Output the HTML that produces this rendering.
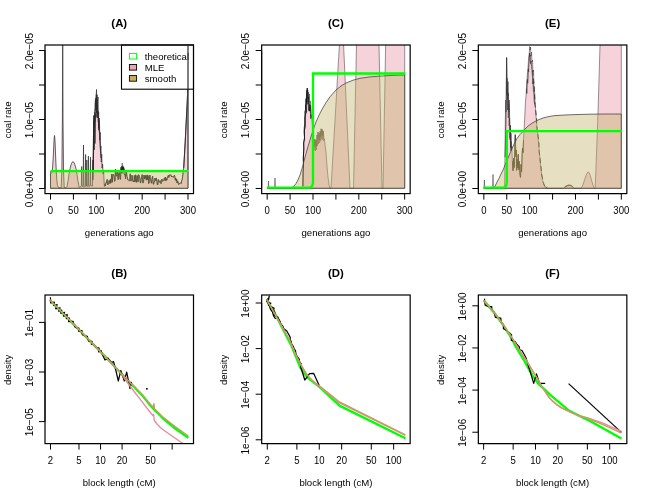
<!DOCTYPE html>
<html><head><meta charset="utf-8"><style>
html,body{margin:0;padding:0;background:#fff;}
svg{display:block;font-family:"Liberation Sans",sans-serif;will-change:transform;}
</style></head><body>
<svg width="650" height="500" viewBox="0 0 650 500">
<rect width="650" height="500" fill="#fff"/>
<clipPath id="cA"><rect x="45.0" y="45.0" width="148.5" height="148.6"/></clipPath>
<g clip-path="url(#cA)">
<path d="M50.5,188.3 L50.5,174.0 L51.8,172.5 L52.6,168.0 L53.2,158.0 L53.8,145.0 L54.2,138.0 L54.5,135.5 L54.8,138.0 L55.2,145.0 L55.7,158.0 L56.2,170.0 L56.8,180.0 L57.5,185.5 L58.5,187.6 L61.2,187.6 L61.9,170.0 L62.4,120.0 L62.7,20.0 L63.0,120.0 L63.5,170.0 L64.2,187.6 L66.0,187.6 L67.0,186.5 L68.2,180.2 L69.1,173.5 L70.1,168.3 L71.1,164.7 L72.0,162.4 L73.0,161.7 L74.0,162.4 L74.9,164.7 L75.9,168.3 L76.9,173.5 L77.8,180.2 L79.2,187.5 L81.4,186.1 L81.7,166.5 L82.0,185.8 L83.2,186.8 L83.5,145.0 L83.8,185.6 L85.2,186.6 L85.6,154.5 L85.9,186.2 L86.5,185.6 L86.8,160.0 L87.1,186.5 L88.1,185.6 L88.4,156.0 L88.8,186.4 L90.2,185.6 L90.5,157.2 L90.8,185.7 L92.4,186.0 L92.9,160.0 L93.3,172.0 L93.6,140.0 L93.9,150.0 L94.1,115.0 L94.4,128.0 L94.7,112.0 L95.0,122.0 L95.4,100.0 L95.8,110.0 L96.2,96.0 L96.5,89.5 L96.8,112.0 L97.1,99.0 L97.4,118.0 L97.7,101.0 L98.0,97.0 L98.3,122.0 L98.6,112.0 L98.9,130.0 L99.2,118.0 L99.5,124.0 L99.8,140.0 L100.1,133.0 L100.5,150.0 L100.9,146.0 L101.3,162.0 L101.7,154.4 L102.1,168.0 L102.6,164.0 L103.1,174.0 L103.6,171.0 L104.0,180.0 L104.4,186.5 L104.9,184.2 L105.4,185.9 L105.8,182.8 L106.3,183.0 L106.7,180.7 L107.2,179.4 L107.7,184.8 L108.1,183.9 L108.6,183.9 L109.0,180.4 L109.5,180.9 L110.0,183.6 L110.4,179.4 L110.9,182.8 L111.3,179.2 L111.8,174.1 L112.3,182.2 L112.7,176.8 L113.2,174.3 L113.6,174.5 L114.1,176.3 L114.6,181.3 L115.0,181.0 L115.5,169.0 L115.9,173.1 L116.4,176.0 L116.9,176.2 L117.3,170.9 L117.8,175.3 L118.2,179.6 L118.7,174.1 L119.2,172.3 L119.6,174.8 L120.1,179.1 L120.5,179.3 L121.0,167.2 L121.5,168.2 L121.9,173.3 L122.4,167.8 L122.8,166.9 L123.3,168.9 L123.8,167.8 L124.2,173.6 L124.7,174.9 L125.1,174.6 L125.6,178.8 L126.1,170.7 L126.5,172.3 L127.0,176.7 L127.4,177.0 L127.9,180.1 L128.4,180.1 L128.8,180.5 L129.3,180.6 L129.7,180.8 L130.2,173.8 L130.7,180.8 L131.1,180.8 L131.6,180.5 L132.0,175.2 L132.5,178.9 L133.0,181.4 L133.4,181.0 L133.9,182.0 L134.3,175.5 L134.8,181.7 L135.3,181.8 L135.7,174.8 L136.2,179.2 L136.6,182.3 L137.1,175.6 L137.6,176.0 L138.0,181.8 L138.5,174.8 L138.9,174.9 L139.4,176.3 L139.9,179.1 L140.3,182.8 L140.8,182.6 L141.2,177.8 L141.7,177.9 L142.2,174.6 L142.6,182.8 L143.1,182.9 L143.5,182.5 L144.0,175.0 L144.5,178.8 L144.9,176.9 L145.4,178.2 L145.8,175.3 L146.3,180.1 L146.8,176.4 L147.2,174.9 L147.7,179.7 L148.1,175.6 L148.6,183.6 L149.1,182.9 L149.5,177.2 L150.0,175.1 L150.4,180.2 L150.9,180.8 L151.4,183.2 L151.8,180.0 L152.3,177.1 L152.7,176.3 L153.2,184.1 L153.7,184.2 L154.1,181.2 L154.6,181.6 L155.0,178.1 L155.5,180.7 L156.0,178.2 L156.4,178.2 L156.9,181.2 L157.3,184.4 L157.8,184.9 L158.3,179.5 L158.7,181.3 L159.2,182.3 L159.6,182.0 L160.1,180.6 L160.6,182.5 L161.0,183.7 L161.5,181.6 L161.9,179.0 L162.4,181.1 L162.9,181.0 L163.3,180.8 L163.8,180.5 L164.2,178.3 L164.7,177.7 L165.2,180.8 L165.6,177.1 L166.1,180.5 L166.5,178.9 L167.0,179.8 L167.5,177.3 L167.9,176.2 L168.4,175.3 L168.8,177.5 L169.3,175.2 L169.8,174.8 L170.2,175.4 L170.7,174.7 L171.1,175.6 L171.6,177.0 L172.1,176.3 L172.5,176.8 L173.0,176.4 L173.4,177.2 L173.9,176.9 L174.4,175.1 L174.8,176.5 L175.3,179.9 L175.7,178.0 L176.2,181.1 L176.7,179.2 L177.1,183.0 L177.6,180.9 L178.0,181.9 L178.5,184.3 L179.0,184.4 L179.4,183.3 L179.9,183.6 L180.3,183.3 L180.8,182.7 L181.3,183.4 L181.7,180.2 L182.2,179.9 L182.6,176.9 L183.1,172.8 L183.7,168.0 L184.4,156.0 L185.2,142.0 L185.9,128.0 L186.6,114.0 L187.2,103.0 L187.6,93.0 L187.8,60.0 L187.9,20.0 L188.0,20.0 L188.0,188.3Z" fill="#F6D2DA" stroke="#3a3a3a" stroke-width="0.8" stroke-linejoin="round"/>
<path d="M93.6,124.5 L93.8,123.9 L94.0,121.3 L94.2,126.2 L94.4,116.3 L94.6,117.3 L94.9,109.8 L95.1,110.2 L95.3,102.7 L95.5,104.2 L95.7,98.2 L95.9,107.5 L96.1,102.6 L96.3,94.8 L96.5,97.5 L96.7,105.8 L97.0,94.6 L97.2,108.3 L97.4,104.4 L97.6,107.8 L97.8,115.7 L98.0,111.1 L98.2,115.5 L98.4,120.9 L98.6,128.2 L98.8,120.6 L99.1,131.1 L99.3,131.7 L99.5,133.3 L99.7,132.3 L99.9,134.1 L100.1,132.2" fill="none" stroke="#2b2b2b" stroke-width="0.8" stroke-linejoin="round" />
<path d="M93.6,133.7 L93.8,129.3 L94.0,149.6 L94.2,130.7 L94.4,125.2 L94.6,120.2 L94.9,143.6 L95.1,142.3 L95.3,133.2 L95.5,117.7 L95.7,114.2 L95.9,113.8 L96.1,117.4 L96.3,105.1 L96.5,113.1 L96.7,107.8" fill="none" stroke="#2b2b2b" stroke-width="0.8" stroke-linejoin="round" />
<path d="M92.9,180.0 L93.2,160.0 L93.5,140.0 L93.7,128.0 L94.0,116.0" fill="none" stroke="#222" stroke-width="1.2" stroke-linejoin="round" />
<path d="M99.3,123.6 L99.6,134.0 L100.3,148.0 L101.0,158.0" fill="none" stroke="#333" stroke-width="1.0" stroke-linejoin="round" />
<path d="M50.5,188.3 L50.5,171.3 L188.0,171.3 L188.0,188.3Z" fill="rgba(192,175,100,0.40)" stroke="#5a563f" stroke-width="0.7" stroke-linejoin="round"/>
<path d="M104.9,184.2 L105.4,185.9 L105.8,182.8 L106.3,183.0 L106.7,180.7 L107.2,179.4 L107.7,184.8 L108.1,183.9 L108.6,183.9 L109.0,180.4 L109.5,180.9 L110.0,183.6 L110.4,179.4 L110.9,182.8 L111.3,179.2 L111.8,174.1 L112.3,182.2 L112.7,176.8 L113.2,174.3 L113.6,174.5 L114.1,176.3 L114.6,181.3 L115.0,181.0 L115.5,169.0 L115.9,173.1 L116.4,176.0 L116.9,176.2 L117.3,170.9 L117.8,175.3 L118.2,179.6 L118.7,174.1 L119.2,172.3 L119.6,174.8 L120.1,179.1 L120.5,179.3 L121.0,167.2 L121.5,168.2 L121.9,173.3 L122.4,167.8 L122.8,166.9 L123.3,168.9 L123.8,167.8 L124.2,173.6 L124.7,174.9 L125.1,174.6 L125.6,178.8 L126.1,170.7 L126.5,172.3 L127.0,176.7 L127.4,177.0 L127.9,180.1 L128.4,180.1 L128.8,180.5 L129.3,180.6 L129.7,180.8 L130.2,173.8 L130.7,180.8 L131.1,180.8 L131.6,180.5 L132.0,175.2 L132.5,178.9 L133.0,181.4 L133.4,181.0 L133.9,182.0 L134.3,175.5 L134.8,181.7 L135.3,181.8 L135.7,174.8 L136.2,179.2 L136.6,182.3 L137.1,175.6 L137.6,176.0 L138.0,181.8 L138.5,174.8 L138.9,174.9 L139.4,176.3 L139.9,179.1 L140.3,182.8 L140.8,182.6 L141.2,177.8 L141.7,177.9 L142.2,174.6 L142.6,182.8 L143.1,182.9 L143.5,182.5 L144.0,175.0 L144.5,178.8 L144.9,176.9 L145.4,178.2 L145.8,175.3 L146.3,180.1 L146.8,176.4 L147.2,174.9 L147.7,179.7 L148.1,175.6 L148.6,183.6 L149.1,182.9 L149.5,177.2 L150.0,175.1 L150.4,180.2 L150.9,180.8 L151.4,183.2 L151.8,180.0 L152.3,177.1 L152.7,176.3 L153.2,184.1 L153.7,184.2 L154.1,181.2 L154.6,181.6 L155.0,178.1 L155.5,180.7 L156.0,178.2 L156.4,178.2 L156.9,181.2 L157.3,184.4 L157.8,184.9 L158.3,179.5 L158.7,181.3 L159.2,182.3 L159.6,182.0 L160.1,180.6 L160.6,182.5 L161.0,183.7 L161.5,181.6 L161.9,179.0 L162.4,181.1 L162.9,181.0 L163.3,180.8 L163.8,180.5 L164.2,178.3 L164.7,177.7 L165.2,180.8 L165.6,177.1 L166.1,180.5 L166.5,178.9 L167.0,179.8 L167.5,177.3 L167.9,176.2 L168.4,175.3 L168.8,177.5 L169.3,175.2 L169.8,174.8 L170.2,175.4 L170.7,174.7 L171.1,175.6 L171.6,177.0 L172.1,176.3 L172.5,176.8 L173.0,176.4 L173.4,177.2 L173.9,176.9 L174.4,175.1 L174.8,176.5 L175.3,179.9 L175.7,178.0 L176.2,181.1 L176.7,179.2 L177.1,183.0 L177.6,180.9 L178.0,181.9 L178.5,184.3 L179.0,184.4 L179.4,183.3 L179.9,183.6 L180.3,183.3 L180.8,182.7 L181.3,183.4 L181.7,180.2 L182.2,179.9 L182.6,176.9 L183.1,172.8" fill="none" stroke="#4f4930" stroke-width="0.55" stroke-linejoin="round" />
<path d="M120.9,171.0 L120.9,168.5" fill="none" stroke="#222" stroke-width="0.8" stroke-linejoin="round" />
<path d="M121.6,171.0 L121.6,166.0" fill="none" stroke="#222" stroke-width="0.8" stroke-linejoin="round" />
<path d="M122.2,171.0 L122.2,163.0" fill="none" stroke="#222" stroke-width="0.8" stroke-linejoin="round" />
<path d="M122.8,171.0 L122.8,165.5" fill="none" stroke="#222" stroke-width="0.8" stroke-linejoin="round" />
<path d="M123.4,171.0 L123.4,166.5" fill="none" stroke="#222" stroke-width="0.8" stroke-linejoin="round" />
<path d="M124.0,171.0 L124.0,168.5" fill="none" stroke="#222" stroke-width="0.8" stroke-linejoin="round" />
<path d="M183.7,168.0 L184.4,156.0 L185.2,142.0 L185.9,128.0 L186.6,114.0 L187.2,103.0 L187.6,93.0 L187.9,70.0" fill="none" stroke="#2e2e2e" stroke-width="0.9" stroke-linejoin="round" />
<path d="M188.0,60.0 L188.0,170.0" fill="none" stroke="#444" stroke-width="0.9" stroke-linejoin="round" />
<path d="M50.5,171.2 L188.0,171.2" fill="none" stroke="#00FF00" stroke-width="2.3" stroke-linejoin="round" />
</g>
<rect x="121.5" y="45.0" width="72.0" height="44.2" fill="#fff" stroke="#000" stroke-width="1.1"/>
<rect x="129.4" y="53.4" width="7.2" height="5.6" fill="#fff" stroke="#00FF00" stroke-width="1"/>
<rect x="129.4" y="64.5" width="7.2" height="5.6" fill="#EFA3B4" stroke="#000" stroke-width="0.9"/>
<rect x="129.4" y="75.6" width="7.2" height="5.6" fill="#C9AE62" stroke="#000" stroke-width="0.9"/>
<text x="144.8" y="59.6" font-size="9.6">theoretical</text>
<text x="144.8" y="70.7" font-size="9.6">MLE</text>
<text x="144.8" y="81.8" font-size="9.6">smooth</text>
<path d="M188.0,45.5 L188.0,89.0" fill="none" stroke="#333" stroke-width="1.25" stroke-linejoin="round" />
<rect x="45.0" y="45.0" width="148.5" height="148.6" fill="none" stroke="#000" stroke-width="1.2"/>
<line x1="50.50" y1="193.60" x2="187.99" y2="193.60" stroke="#000" stroke-width="1"/>
<line x1="50.50" y1="193.60" x2="50.50" y2="199.60" stroke="#000" stroke-width="1"/>
<line x1="73.41" y1="193.60" x2="73.41" y2="199.60" stroke="#000" stroke-width="1"/>
<line x1="96.33" y1="193.60" x2="96.33" y2="199.60" stroke="#000" stroke-width="1"/>
<line x1="119.25" y1="193.60" x2="119.25" y2="199.60" stroke="#000" stroke-width="1"/>
<line x1="142.16" y1="193.60" x2="142.16" y2="199.60" stroke="#000" stroke-width="1"/>
<line x1="165.07" y1="193.60" x2="165.07" y2="199.60" stroke="#000" stroke-width="1"/>
<line x1="187.99" y1="193.60" x2="187.99" y2="199.60" stroke="#000" stroke-width="1"/>
<text transform="translate(50.50 213.60) scale(0.93 1)" font-size="10.3" text-anchor="middle">0</text>
<text transform="translate(73.41 213.60) scale(0.93 1)" font-size="10.3" text-anchor="middle">50</text>
<text transform="translate(96.33 213.60) scale(0.93 1)" font-size="10.3" text-anchor="middle">100</text>
<text transform="translate(142.16 213.60) scale(0.93 1)" font-size="10.3" text-anchor="middle">200</text>
<text transform="translate(187.99 213.60) scale(0.93 1)" font-size="10.3" text-anchor="middle">300</text>
<line x1="45.00" y1="188.50" x2="45.00" y2="50.50" stroke="#000" stroke-width="1"/>
<line x1="39.00" y1="188.50" x2="45.00" y2="188.50" stroke="#000" stroke-width="1"/>
<line x1="39.00" y1="154.00" x2="45.00" y2="154.00" stroke="#000" stroke-width="1"/>
<line x1="39.00" y1="119.50" x2="45.00" y2="119.50" stroke="#000" stroke-width="1"/>
<line x1="39.00" y1="85.00" x2="45.00" y2="85.00" stroke="#000" stroke-width="1"/>
<line x1="39.00" y1="50.50" x2="45.00" y2="50.50" stroke="#000" stroke-width="1"/>
<text x="32.80" y="189.10" font-size="10" text-anchor="middle" transform="rotate(-90 32.80 189.10)">0.0e+00</text>
<text x="32.80" y="120.10" font-size="10" text-anchor="middle" transform="rotate(-90 32.80 120.10)">1.0e&#8722;05</text>
<text x="32.80" y="51.10" font-size="10" text-anchor="middle" transform="rotate(-90 32.80 51.10)">2.0e&#8722;05</text>
<text x="119.25" y="235.50" font-size="9.6" text-anchor="middle">generations ago</text>
<text x="10.70" y="119.90" font-size="9.6" text-anchor="middle" transform="rotate(-90 10.70 119.90)">coal rate</text>
<text x="119.25" y="26.50" font-size="11.4" text-anchor="middle" font-weight="bold">(A)</text>
<clipPath id="cC"><rect x="261.6667" y="45.0" width="148.5" height="148.6"/></clipPath>
<g clip-path="url(#cC)">
<path d="M267.2,188.3 L268.1,188.3 L268.5,181.0 L268.9,188.3 L274.6,188.3 L275.0,178.0 L275.4,188.3 L302.6,188.3 L302.9,186.0 L303.1,172.0 L303.5,166.0 L303.3,158.0 L303.8,149.0 L303.7,143.0 L304.5,138.0 L304.3,131.0 L305.1,126.0 L304.9,118.0 L305.8,113.0 L305.6,106.0 L306.4,103.0 L306.5,96.0 L307.3,88.0 L308.0,99.0 L308.4,92.0 L308.9,102.0 L309.4,94.0 L309.8,106.0 L310.2,101.0 L310.8,105.6 L311.3,112.0 L312.0,120.0 L312.8,130.0 L313.6,138.0 L314.3,146.0 L314.8,139.0 L315.3,147.0 L315.9,140.0 L316.5,146.0 L317.1,135.0 L317.6,141.0 L318.0,132.0 L318.6,139.0 L319.2,133.0 L319.6,140.0 L320.2,131.0 L320.7,137.0 L321.2,128.8 L321.7,135.0 L322.2,129.5 L322.8,136.0 L323.3,131.2 L323.8,138.0 L324.4,139.0 L325.2,146.0 L326.0,152.0 L327.0,166.0 L328.0,177.0 L329.2,185.6 L330.0,188.0 L331.0,188.3 L340.6,25.0 L342.7,25.0 L350.0,188.3 L353.5,188.3 L356.9,25.0 L378.6,25.0 L382.0,188.3 L383.0,188.3 L386.0,25.0 L404.7,25.0 L404.7,188.3Z" fill="#F6D2DA" stroke="rgba(45,35,40,0.6)" stroke-width="0.8" stroke-linejoin="round"/>
<path d="M306.2,112.6 L306.5,112.4 L306.7,105.1 L307.0,103.9 L307.3,99.5 L307.5,89.8 L307.8,90.4 L308.1,104.2 L308.4,96.9 L308.6,97.9 L308.9,110.7 L309.2,104.3 L309.4,111.2 L309.7,107.2 L310.0,111.0 L310.2,105.1 L310.5,113.7 L310.8,118.6 L311.1,114.9" fill="none" stroke="#222" stroke-width="0.85" stroke-linejoin="round" />
<path d="M302.9,186.0 L303.1,172.0 L303.5,166.0 L303.3,158.0 L303.8,149.0 L303.7,143.0 L304.5,138.0 L304.3,131.0 L305.1,126.0 L304.9,118.0 L305.8,113.0 L305.6,106.0 L306.4,103.0 L306.5,96.0 L307.3,88.0" fill="none" stroke="#111" stroke-width="1.0" stroke-linejoin="round" />
<path d="M304.6,140.0 L304.2,128.0 L305.2,121.0 L304.8,112.0 L305.9,108.0 L305.6,100.0 L306.6,97.0 L306.9,90.0" fill="none" stroke="#222" stroke-width="0.8" stroke-linejoin="round" />
<path d="M313.8,140.0 L314.2,150.0 L314.8,139.0 L315.3,151.0 L315.9,140.0 L316.4,150.0 L317.1,135.0 L317.5,146.0 L318.0,132.0 L318.5,144.0 L319.2,133.0 L319.6,143.0 L320.2,131.0 L320.7,141.0 L321.2,128.8 L321.7,139.0 L322.2,129.5 L322.8,140.0 L323.3,131.2 L323.8,141.0 L324.4,139.0" fill="none" stroke="#6e6248" stroke-width="0.6" stroke-linejoin="round" />
<path d="M267.2,188.3 L290.0,188.3 L292.0,187.5 L294.0,186.0 L296.0,183.6 L298.0,180.0 L300.0,175.0 L302.0,168.5 L304.0,161.0 L306.0,153.5 L308.0,146.5 L310.0,140.0 L312.0,133.5 L314.0,127.5 L316.0,122.0 L318.0,117.5 L320.0,113.2 L323.0,107.6 L326.0,102.6 L330.0,96.8 L336.0,90.0 L341.0,86.0 L346.0,83.0 L353.0,80.2 L360.0,78.3 L370.0,76.9 L380.0,76.1 L392.0,75.4 L404.7,75.0 L404.7,188.3Z" fill="rgba(192,175,100,0.40)" stroke="#4a4a40" stroke-width="0.8" stroke-linejoin="round"/>
<path d="M266.8,187.7 L308.5,187.7 Q313,187.7 313,182 L313,73.5 L405.4,73.5" fill="none" stroke="#00FF00" stroke-width="2.3" stroke-linejoin="miter"/>
</g>
<rect x="261.6667" y="45.0" width="148.5" height="148.6" fill="none" stroke="#000" stroke-width="1.2"/>
<line x1="267.17" y1="193.60" x2="404.66" y2="193.60" stroke="#000" stroke-width="1"/>
<line x1="267.17" y1="193.60" x2="267.17" y2="199.60" stroke="#000" stroke-width="1"/>
<line x1="290.08" y1="193.60" x2="290.08" y2="199.60" stroke="#000" stroke-width="1"/>
<line x1="313.00" y1="193.60" x2="313.00" y2="199.60" stroke="#000" stroke-width="1"/>
<line x1="335.91" y1="193.60" x2="335.91" y2="199.60" stroke="#000" stroke-width="1"/>
<line x1="358.83" y1="193.60" x2="358.83" y2="199.60" stroke="#000" stroke-width="1"/>
<line x1="381.74" y1="193.60" x2="381.74" y2="199.60" stroke="#000" stroke-width="1"/>
<line x1="404.66" y1="193.60" x2="404.66" y2="199.60" stroke="#000" stroke-width="1"/>
<text transform="translate(267.17 213.60) scale(0.93 1)" font-size="10.3" text-anchor="middle">0</text>
<text transform="translate(290.08 213.60) scale(0.93 1)" font-size="10.3" text-anchor="middle">50</text>
<text transform="translate(313.00 213.60) scale(0.93 1)" font-size="10.3" text-anchor="middle">100</text>
<text transform="translate(358.83 213.60) scale(0.93 1)" font-size="10.3" text-anchor="middle">200</text>
<text transform="translate(404.66 213.60) scale(0.93 1)" font-size="10.3" text-anchor="middle">300</text>
<line x1="261.67" y1="188.50" x2="261.67" y2="50.50" stroke="#000" stroke-width="1"/>
<line x1="255.67" y1="188.50" x2="261.67" y2="188.50" stroke="#000" stroke-width="1"/>
<line x1="255.67" y1="154.00" x2="261.67" y2="154.00" stroke="#000" stroke-width="1"/>
<line x1="255.67" y1="119.50" x2="261.67" y2="119.50" stroke="#000" stroke-width="1"/>
<line x1="255.67" y1="85.00" x2="261.67" y2="85.00" stroke="#000" stroke-width="1"/>
<line x1="255.67" y1="50.50" x2="261.67" y2="50.50" stroke="#000" stroke-width="1"/>
<text x="249.47" y="189.10" font-size="10" text-anchor="middle" transform="rotate(-90 249.47 189.10)">0.0e+00</text>
<text x="249.47" y="120.10" font-size="10" text-anchor="middle" transform="rotate(-90 249.47 120.10)">1.0e&#8722;05</text>
<text x="249.47" y="51.10" font-size="10" text-anchor="middle" transform="rotate(-90 249.47 51.10)">2.0e&#8722;05</text>
<text x="335.92" y="235.50" font-size="9.6" text-anchor="middle">generations ago</text>
<text x="227.37" y="119.90" font-size="9.6" text-anchor="middle" transform="rotate(-90 227.37 119.90)">coal rate</text>
<text x="335.92" y="26.50" font-size="11.4" text-anchor="middle" font-weight="bold">(C)</text>
<clipPath id="cE"><rect x="478.3334" y="45.0" width="148.5" height="148.6"/></clipPath>
<g clip-path="url(#cE)">
<path d="M483.8,188.3 L484.0,188.3 L484.4,180.0 L484.8,188.3 L492.6,188.3 L493.0,174.4 L493.4,188.3 L504.6,188.3 L505.0,150.0 L505.3,120.0 L505.7,100.0 L506.0,112.0 L506.3,80.0 L506.6,57.2 L506.9,95.0 L507.2,78.0 L507.6,110.0 L507.9,92.0 L508.3,118.0 L508.7,104.0 L509.1,126.0 L509.6,118.0 L510.1,140.0 L510.6,134.0 L511.2,150.0 L511.8,146.0 L512.4,161.0 L513.0,170.0 L513.6,158.0 L514.2,166.0 L514.8,145.0 L515.3,134.7 L515.8,155.0 L516.3,150.0 L516.7,169.5 L517.2,160.0 L517.7,166.0 L518.2,155.0 L518.7,168.0 L519.2,162.0 L519.8,172.0 L520.5,176.7 L521.0,165.0 L521.6,170.0 L522.1,155.0 L522.5,149.0 L523.0,152.0 L523.5,140.0 L524.0,131.0 L524.7,118.0 L525.4,103.0 L526.0,96.0 L526.7,84.0 L527.4,74.0 L528.0,68.0 L528.6,58.0 L529.2,54.0 L529.7,46.5 L530.2,50.0 L530.6,47.0 L531.0,56.0 L531.5,52.0 L532.0,62.0 L532.5,60.0 L533.0,72.0 L533.5,70.0 L534.0,88.0 L534.6,92.0 L535.2,104.0 L536.1,117.4 L537.0,127.0 L538.4,140.5 L539.5,153.0 L540.7,166.6 L541.8,175.0 L542.8,181.0 L544.0,185.0 L545.5,187.3 L547.5,188.3 L563.5,188.3 L565.0,187.0 L566.5,185.8 L568.0,185.2 L569.5,185.0 L571.0,185.6 L572.5,186.8 L574.0,188.3 L580.5,188.3 L581.5,187.5 L583.0,184.5 L584.5,180.0 L586.0,175.5 L587.3,172.6 L588.2,172.0 L589.2,172.8 L590.3,175.5 L591.5,180.0 L592.8,184.5 L594.0,187.5 L594.8,188.3 L595.2,188.3 L597.4,130.0 L598.4,100.0 L600.0,45.0 L600.4,25.0 L621.3,25.0 L621.3,188.3Z" fill="#F6D2DA" stroke="rgba(45,35,40,0.6)" stroke-width="0.8" stroke-linejoin="round"/>
<path d="M505.1,157.1 L505.4,146.7 L505.6,134.5 L505.9,124.8 L506.1,105.4 L506.4,96.8 L506.6,58.0 L506.9,74.5 L507.1,92.1 L507.4,88.1 L507.6,99.4 L507.9,81.6 L508.1,95.8 L508.4,93.9 L508.6,106.4 L508.9,111.5 L509.1,100.1 L509.4,110.0 L509.6,116.0 L509.9,138.1 L510.1,138.1 L510.4,125.4 L510.6,147.5 L510.9,133.3 L511.1,151.0 L511.4,141.5" fill="none" stroke="#3a3a3a" stroke-width="0.8" stroke-linejoin="round" />
<path d="M526.5,88.5 L526.8,93.5 L527.1,83.1 L527.4,79.4 L527.7,83.3 L528.0,78.5 L528.3,68.9 L528.6,71.9 L528.9,63.9 L529.2,61.5 L529.5,53.0 L529.8,56.7 L530.1,55.1 L530.4,61.2 L530.7,63.7 L531.0,61.1 L531.3,65.0 L531.6,66.4 L531.9,69.5 L532.2,72.0 L532.5,77.6 L532.8,83.9 L533.1,81.2 L533.4,91.3 L533.7,91.2 L534.0,94.2 L534.3,102.6 L534.6,102.5 L534.9,104.2" fill="none" stroke="#3a3a3a" stroke-width="0.8" stroke-linejoin="round" />
<path d="M512.4,161.0 L513.0,171.0 L513.6,158.0 L514.2,168.0 L514.8,145.0 L515.3,134.7 L515.8,157.0 L516.3,150.0 L516.7,170.5 L517.2,159.0 L517.7,168.0 L518.2,154.0 L518.7,170.0 L519.2,161.0 L519.8,174.0 L520.5,177.5 L521.0,164.0 L521.6,172.0 L522.1,155.0 L522.5,148.0 L523.0,153.0 L523.5,140.0" fill="none" stroke="#4a4030" stroke-width="0.8" stroke-linejoin="round" />
<path d="M532.6,70.5 L534.5,89.5 L534.8,102.5 L536.6,118.9 L536.6,125.5 L538.9,142.0 L539.1,151.5 L541.2,168.1 L541.4,173.5 L543.3,182.5 L543.6,183.5 L546.0,188.8 L547.1,186.8" fill="none" stroke="#3a3528" stroke-width="0.9" stroke-linejoin="round" stroke-dasharray="5 3"/>
<path d="M564.5,187.6 L565.5,186.2 L566.3,186.9 L567.0,185.3 L567.8,186.2 L568.6,184.8 L569.4,185.8 L570.2,184.9 L571.0,186.2 L571.8,185.6 L572.6,187.0 L573.5,187.8" fill="none" stroke="#4a4030" stroke-width="0.8" stroke-linejoin="round" />
<path d="M483.8,188.3 L493.0,188.3 L495.0,186.5 L497.0,182.0 L499.0,178.3 L501.0,174.0 L503.0,170.0 L505.5,164.0 L508.0,158.0 L511.0,151.0 L514.0,144.0 L517.0,138.5 L520.0,134.5 L523.0,131.5 L526.0,128.0 L529.0,125.3 L533.0,122.6 L538.0,120.0 L543.0,118.0 L549.0,116.5 L555.0,115.6 L565.0,115.0 L575.0,114.6 L590.0,114.2 L605.0,114.0 L621.3,114.0 L621.3,188.3Z" fill="rgba(192,175,100,0.40)" stroke="#4a4a40" stroke-width="0.8" stroke-linejoin="round"/>
<path d="M483.4,187.7 L502.5,187.7 Q506.8,187.7 506.8,182 L506.8,131.2 L622,131.2" fill="none" stroke="#00FF00" stroke-width="2.3" stroke-linejoin="miter"/>
</g>
<rect x="478.3334" y="45.0" width="148.5" height="148.6" fill="none" stroke="#000" stroke-width="1.2"/>
<line x1="483.83" y1="193.60" x2="621.32" y2="193.60" stroke="#000" stroke-width="1"/>
<line x1="483.83" y1="193.60" x2="483.83" y2="199.60" stroke="#000" stroke-width="1"/>
<line x1="506.75" y1="193.60" x2="506.75" y2="199.60" stroke="#000" stroke-width="1"/>
<line x1="529.66" y1="193.60" x2="529.66" y2="199.60" stroke="#000" stroke-width="1"/>
<line x1="552.58" y1="193.60" x2="552.58" y2="199.60" stroke="#000" stroke-width="1"/>
<line x1="575.49" y1="193.60" x2="575.49" y2="199.60" stroke="#000" stroke-width="1"/>
<line x1="598.41" y1="193.60" x2="598.41" y2="199.60" stroke="#000" stroke-width="1"/>
<line x1="621.32" y1="193.60" x2="621.32" y2="199.60" stroke="#000" stroke-width="1"/>
<text transform="translate(483.83 213.60) scale(0.93 1)" font-size="10.3" text-anchor="middle">0</text>
<text transform="translate(506.75 213.60) scale(0.93 1)" font-size="10.3" text-anchor="middle">50</text>
<text transform="translate(529.66 213.60) scale(0.93 1)" font-size="10.3" text-anchor="middle">100</text>
<text transform="translate(575.49 213.60) scale(0.93 1)" font-size="10.3" text-anchor="middle">200</text>
<text transform="translate(621.32 213.60) scale(0.93 1)" font-size="10.3" text-anchor="middle">300</text>
<line x1="478.33" y1="188.50" x2="478.33" y2="50.50" stroke="#000" stroke-width="1"/>
<line x1="472.33" y1="188.50" x2="478.33" y2="188.50" stroke="#000" stroke-width="1"/>
<line x1="472.33" y1="154.00" x2="478.33" y2="154.00" stroke="#000" stroke-width="1"/>
<line x1="472.33" y1="119.50" x2="478.33" y2="119.50" stroke="#000" stroke-width="1"/>
<line x1="472.33" y1="85.00" x2="478.33" y2="85.00" stroke="#000" stroke-width="1"/>
<line x1="472.33" y1="50.50" x2="478.33" y2="50.50" stroke="#000" stroke-width="1"/>
<text x="466.13" y="189.10" font-size="10" text-anchor="middle" transform="rotate(-90 466.13 189.10)">0.0e+00</text>
<text x="466.13" y="120.10" font-size="10" text-anchor="middle" transform="rotate(-90 466.13 120.10)">1.0e&#8722;05</text>
<text x="466.13" y="51.10" font-size="10" text-anchor="middle" transform="rotate(-90 466.13 51.10)">2.0e&#8722;05</text>
<text x="552.58" y="235.50" font-size="9.6" text-anchor="middle">generations ago</text>
<text x="444.03" y="119.90" font-size="9.6" text-anchor="middle" transform="rotate(-90 444.03 119.90)">coal rate</text>
<text x="552.58" y="26.50" font-size="11.4" text-anchor="middle" font-weight="bold">(E)</text>
<clipPath id="cB"><rect x="45.0" y="295.0" width="148.5" height="148.60000000000002"/></clipPath>
<g clip-path="url(#cB)">
<path d="M49.8,299.8 L105.0,356.3 L115.0,367.0 L122.0,374.3 L132.0,384.7 L143.0,396.2 L150.0,405.0 L154.5,410.0 L158.0,413.2 L162.6,418.0 L173.4,427.2 L188.3,437.8" fill="none" stroke="#00FF00" stroke-width="2.4" stroke-linejoin="round" />
<path d="M50.4,297.2 L50.7,303.0 L54.4,302.1 L53.8,305.6 L57.1,304.5 L55.7,308.8 L60.1,307.8 L58.7,311.3 L61.8,310.1 L60.7,313.1 L64.6,312.4 L63.5,316.1 L67.3,314.6 L66.3,318.7 L69.3,318.0 L68.6,321.7 L71.4,321.3 L73.2,321.3 L73.2,323.9 L74.5,324.5 L74.6,326.8 L76.8,327.9 L78.9,328.0 L78.7,331.3 L82.0,330.5 L81.7,332.9 L82.4,334.7 L84.7,335.8 L87.4,336.4 L87.7,339.2 L89.0,341.4 L92.1,341.3 L91.3,344.1 L93.2,344.3 L94.6,345.5 L95.7,347.1 L97.3,347.7 L99.1,348.0 L98.6,351.9 L101.0,350.5 L103.0,356.0 L105.0,360.0 L108.0,358.0 L111.5,362.5 L113.5,361.5 L116.0,371.0 L118.3,381.0 L120.8,370.5 L124.3,381.0 L126.7,372.0 L130.0,388.7 L131.6,382.0" fill="none" stroke="#000" stroke-width="1.2" stroke-linejoin="round" />
<path d="M49.7,299.9 L104.9,356.4 L114.9,367.1 L121.9,374.5 L124.0,378.0 L133.0,390.0 L141.0,400.4 L150.0,412.0 L152.8,415.6 L153.6,414.2 L154.3,420.5 L157.0,424.0 L161.7,428.8 L172.0,436.0 L183.3,443.7 L186.0,446.0" fill="none" stroke="#E48A9A" stroke-width="1.3" stroke-linejoin="round" />
<path d="M49.9,299.7 L105.1,356.2 L115.1,366.9 L122.1,374.2 L132.1,384.5 L143.0,395.6 L150.0,404.0 L153.2,407.2 L153.9,403.6 L154.6,409.0 L162.6,416.7 L173.4,425.4 L188.3,436.0" fill="none" stroke="#C29E60" stroke-width="1.4" stroke-linejoin="round" />
<rect x="146.0" y="388.0" width="1.7" height="1.6" fill="#111"/>
</g>
<rect x="45.0" y="295.0" width="148.5" height="148.60000000000002" fill="none" stroke="#000" stroke-width="1.2"/>
<line x1="50.50" y1="443.60" x2="172.15" y2="443.60" stroke="#000" stroke-width="1"/>
<line x1="50.50" y1="443.60" x2="50.50" y2="449.60" stroke="#000" stroke-width="1"/>
<line x1="78.99" y1="443.60" x2="78.99" y2="449.60" stroke="#000" stroke-width="1"/>
<line x1="100.55" y1="443.60" x2="100.55" y2="449.60" stroke="#000" stroke-width="1"/>
<line x1="122.10" y1="443.60" x2="122.10" y2="449.60" stroke="#000" stroke-width="1"/>
<line x1="150.59" y1="443.60" x2="150.59" y2="449.60" stroke="#000" stroke-width="1"/>
<line x1="172.15" y1="443.60" x2="172.15" y2="449.60" stroke="#000" stroke-width="1"/>
<text transform="translate(50.50 463.60) scale(0.93 1)" font-size="10.3" text-anchor="middle">2</text>
<text transform="translate(78.99 463.60) scale(0.93 1)" font-size="10.3" text-anchor="middle">5</text>
<text transform="translate(100.55 463.60) scale(0.93 1)" font-size="10.3" text-anchor="middle">10</text>
<text transform="translate(122.10 463.60) scale(0.93 1)" font-size="10.3" text-anchor="middle">20</text>
<text transform="translate(150.59 463.60) scale(0.93 1)" font-size="10.3" text-anchor="middle">50</text>
<line x1="45.00" y1="421.60" x2="45.00" y2="322.40" stroke="#000" stroke-width="1"/>
<line x1="39.00" y1="421.60" x2="45.00" y2="421.60" stroke="#000" stroke-width="1"/>
<text x="32.80" y="422.20" font-size="10" text-anchor="middle" transform="rotate(-90 32.80 422.20)">1e&#8722;05</text>
<line x1="39.00" y1="372.00" x2="45.00" y2="372.00" stroke="#000" stroke-width="1"/>
<text x="32.80" y="372.60" font-size="10" text-anchor="middle" transform="rotate(-90 32.80 372.60)">1e&#8722;03</text>
<line x1="39.00" y1="322.40" x2="45.00" y2="322.40" stroke="#000" stroke-width="1"/>
<text x="32.80" y="323.00" font-size="10" text-anchor="middle" transform="rotate(-90 32.80 323.00)">1e&#8722;01</text>
<text x="119.25" y="485.50" font-size="9.6" text-anchor="middle">block length (cM)</text>
<text x="10.70" y="369.90" font-size="9.6" text-anchor="middle" transform="rotate(-90 10.70 369.90)">density</text>
<text x="119.25" y="276.50" font-size="11.4" text-anchor="middle" font-weight="bold">(B)</text>
<clipPath id="cD"><rect x="261.6667" y="295.0" width="148.5" height="148.60000000000002"/></clipPath>
<g clip-path="url(#cD)">
<path d="M266.7,299.4 L275.0,313.8 L283.0,329.2 L289.0,341.0 L291.3,345.4 L295.5,355.5 L300.1,367.0 L303.5,372.5 L307.5,377.6 L320.0,387.4 L339.5,405.6 L405.4,438.3" fill="none" stroke="#00FF00" stroke-width="2.4" stroke-linejoin="round" />
<path d="M268.4,300.5 L269.3,296.0 L268.8,298.0 L266.8,299.9 L266.7,301.3 L270.8,303.2 L268.3,304.7 L270.4,306.7 L274.0,308.2 L273.7,310.2 L274.7,312.1 L275.0,313.6 L274.4,315.5 L277.8,317.1 L278.6,318.8 L280.1,321.6 L281.0,324.1 L283.0,326.3 L283.5,328.5 L286.6,330.8 L287.9,333.0 L288.9,334.8 L290.2,337.2 L290.1,339.7 L291.2,341.5 L291.6,343.8 L293.3,346.5 L293.9,348.3 L295.5,350.8 L295.8,353.1 L296.5,355.4 L297.8,357.5 L299.3,359.4 L299.3,361.1 L301.1,363.5 L300.8,367.2 L304.8,380.0 L309.6,373.6 L313.6,373.3 L320.0,387.2" fill="none" stroke="#000" stroke-width="1.25" stroke-linejoin="round" />
<path d="M266.9,301.5 L269.2,305.0 L270.4,309.0 L272.6,312.0 L273.6,316.0 L275.6,319.0" fill="none" stroke="#000" stroke-width="1.3" stroke-linejoin="round" />
<path d="M266.7,299.6 L289.6,340.2 L293.0,348.2 L296.0,355.4 L299.2,361.8 L302.4,367.4 L305.5,372.7 L308.8,377.2 L312.5,381.1 L316.0,384.2 L320.0,387.0 L330.0,395.2 L339.5,403.0 L405.4,435.4" fill="none" stroke="#E48A9A" stroke-width="1.3" stroke-linejoin="round" />
<path d="M266.7,299.4 L289.6,340.0 L293.0,348.0 L296.0,355.2 L299.2,361.6 L302.4,367.2 L305.5,372.4 L308.8,376.8 L312.5,380.6 L316.0,383.6 L320.0,386.4 L330.0,394.4 L339.5,402.0 L405.4,434.8" fill="none" stroke="#C29E60" stroke-width="1.4" stroke-linejoin="round" />
</g>
<rect x="261.6667" y="295.0" width="148.5" height="148.60000000000002" fill="none" stroke="#000" stroke-width="1.2"/>
<line x1="267.27" y1="443.60" x2="393.67" y2="443.60" stroke="#000" stroke-width="1"/>
<line x1="267.27" y1="443.60" x2="267.27" y2="449.60" stroke="#000" stroke-width="1"/>
<line x1="296.87" y1="443.60" x2="296.87" y2="449.60" stroke="#000" stroke-width="1"/>
<line x1="319.27" y1="443.60" x2="319.27" y2="449.60" stroke="#000" stroke-width="1"/>
<line x1="341.67" y1="443.60" x2="341.67" y2="449.60" stroke="#000" stroke-width="1"/>
<line x1="371.27" y1="443.60" x2="371.27" y2="449.60" stroke="#000" stroke-width="1"/>
<line x1="393.67" y1="443.60" x2="393.67" y2="449.60" stroke="#000" stroke-width="1"/>
<text transform="translate(267.27 463.60) scale(0.93 1)" font-size="10.3" text-anchor="middle">2</text>
<text transform="translate(296.87 463.60) scale(0.93 1)" font-size="10.3" text-anchor="middle">5</text>
<text transform="translate(319.27 463.60) scale(0.93 1)" font-size="10.3" text-anchor="middle">10</text>
<text transform="translate(341.67 463.60) scale(0.93 1)" font-size="10.3" text-anchor="middle">20</text>
<text transform="translate(371.27 463.60) scale(0.93 1)" font-size="10.3" text-anchor="middle">50</text>
<text transform="translate(393.67 463.60) scale(0.93 1)" font-size="10.3" text-anchor="middle">100</text>
<line x1="261.67" y1="439.80" x2="261.67" y2="303.00" stroke="#000" stroke-width="1"/>
<line x1="255.67" y1="439.80" x2="261.67" y2="439.80" stroke="#000" stroke-width="1"/>
<text x="249.47" y="440.40" font-size="10" text-anchor="middle" transform="rotate(-90 249.47 440.40)">1e&#8722;06</text>
<line x1="255.67" y1="394.20" x2="261.67" y2="394.20" stroke="#000" stroke-width="1"/>
<text x="249.47" y="394.80" font-size="10" text-anchor="middle" transform="rotate(-90 249.47 394.80)">1e&#8722;04</text>
<line x1="255.67" y1="348.60" x2="261.67" y2="348.60" stroke="#000" stroke-width="1"/>
<text x="249.47" y="349.20" font-size="10" text-anchor="middle" transform="rotate(-90 249.47 349.20)">1e&#8722;02</text>
<line x1="255.67" y1="303.00" x2="261.67" y2="303.00" stroke="#000" stroke-width="1"/>
<text x="249.47" y="303.60" font-size="10" text-anchor="middle" transform="rotate(-90 249.47 303.60)">1e+00</text>
<text x="335.92" y="485.50" font-size="9.6" text-anchor="middle">block length (cM)</text>
<text x="227.37" y="369.90" font-size="9.6" text-anchor="middle" transform="rotate(-90 227.37 369.90)">density</text>
<text x="335.92" y="276.50" font-size="11.4" text-anchor="middle" font-weight="bold">(D)</text>
<clipPath id="cF"><rect x="478.3334" y="295.0" width="148.5" height="148.60000000000002"/></clipPath>
<g clip-path="url(#cF)">
<path d="M483.6,300.2 L494.0,312.4 L503.6,325.6 L513.0,340.6 L514.8,345.0 L524.4,361.0 L532.4,375.4 L538.8,384.2 L550.0,394.6 L569.2,410.8 L590.0,421.0 L621.4,438.5" fill="none" stroke="#00FF00" stroke-width="2.4" stroke-linejoin="round" />
<path d="M484.6,298.6 L484.5,300.6 L485.2,305.1 L488.6,306.7 L491.8,306.6 L491.7,310.0 L494.2,312.7 L495.4,317.4 L500.8,318.1 L501.1,322.3 L503.5,324.6 L503.4,328.7 L506.6,330.4 L509.8,333.3 L511.6,334.9 L511.3,340.5 L515.1,341.6 L516.8,344.1 L519.4,346.8 L519.6,349.8 L522.0,350.5 L526.0,357.8 L530.0,371.0 L533.7,383.4 L536.4,373.8 L539.6,383.4 L545.2,383.4" fill="none" stroke="#000" stroke-width="1.2" stroke-linejoin="round" />
<path d="M568.6,383.6 L621.4,432.4" fill="none" stroke="#000" stroke-width="1.2" stroke-linejoin="round" />
<path d="M483.6,300.6 L494.0,312.6 L503.6,325.4 L513.2,339.8 L516.4,345.4 L522.8,355.8 L526.0,360.0 L532.4,370.8 L535.6,376.0 L542.0,387.0 L548.4,396.6 L552.0,400.8 L556.4,404.6 L561.0,407.8 L566.0,410.2 L572.0,413.0 L578.8,415.8 L587.0,417.6 L603.0,423.2 L621.4,431.4" fill="none" stroke="#E48A9A" stroke-width="1.3" stroke-linejoin="round" />
<path d="M483.6,300.2 L494.0,312.2 L503.6,325.0 L513.2,339.4 L516.4,345.0 L522.8,355.4 L526.0,359.6 L532.4,370.4 L535.6,375.6 L542.0,386.6 L548.4,396.2 L552.0,400.4 L556.4,404.2 L561.0,407.4 L566.0,409.8 L572.0,412.6 L578.8,415.4 L587.0,418.0 L603.0,424.6 L621.4,433.2" fill="none" stroke="#C29E60" stroke-width="1.4" stroke-linejoin="round" />
</g>
<rect x="478.3334" y="295.0" width="148.5" height="148.60000000000002" fill="none" stroke="#000" stroke-width="1.2"/>
<line x1="483.63" y1="443.60" x2="609.70" y2="443.60" stroke="#000" stroke-width="1"/>
<line x1="483.63" y1="443.60" x2="483.63" y2="449.60" stroke="#000" stroke-width="1"/>
<line x1="513.16" y1="443.60" x2="513.16" y2="449.60" stroke="#000" stroke-width="1"/>
<line x1="535.50" y1="443.60" x2="535.50" y2="449.60" stroke="#000" stroke-width="1"/>
<line x1="557.83" y1="443.60" x2="557.83" y2="449.60" stroke="#000" stroke-width="1"/>
<line x1="587.36" y1="443.60" x2="587.36" y2="449.60" stroke="#000" stroke-width="1"/>
<line x1="609.70" y1="443.60" x2="609.70" y2="449.60" stroke="#000" stroke-width="1"/>
<text transform="translate(483.63 463.60) scale(0.93 1)" font-size="10.3" text-anchor="middle">2</text>
<text transform="translate(513.16 463.60) scale(0.93 1)" font-size="10.3" text-anchor="middle">5</text>
<text transform="translate(535.50 463.60) scale(0.93 1)" font-size="10.3" text-anchor="middle">10</text>
<text transform="translate(557.83 463.60) scale(0.93 1)" font-size="10.3" text-anchor="middle">20</text>
<text transform="translate(587.36 463.60) scale(0.93 1)" font-size="10.3" text-anchor="middle">50</text>
<text transform="translate(609.70 463.60) scale(0.93 1)" font-size="10.3" text-anchor="middle">100</text>
<line x1="478.33" y1="432.22" x2="478.33" y2="305.80" stroke="#000" stroke-width="1"/>
<line x1="472.33" y1="432.22" x2="478.33" y2="432.22" stroke="#000" stroke-width="1"/>
<text x="466.13" y="432.82" font-size="10" text-anchor="middle" transform="rotate(-90 466.13 432.82)">1e&#8722;06</text>
<line x1="472.33" y1="390.08" x2="478.33" y2="390.08" stroke="#000" stroke-width="1"/>
<text x="466.13" y="390.68" font-size="10" text-anchor="middle" transform="rotate(-90 466.13 390.68)">1e&#8722;04</text>
<line x1="472.33" y1="347.94" x2="478.33" y2="347.94" stroke="#000" stroke-width="1"/>
<text x="466.13" y="348.54" font-size="10" text-anchor="middle" transform="rotate(-90 466.13 348.54)">1e&#8722;02</text>
<line x1="472.33" y1="305.80" x2="478.33" y2="305.80" stroke="#000" stroke-width="1"/>
<text x="466.13" y="306.40" font-size="10" text-anchor="middle" transform="rotate(-90 466.13 306.40)">1e+00</text>
<text x="552.58" y="485.50" font-size="9.6" text-anchor="middle">block length (cM)</text>
<text x="444.03" y="369.90" font-size="9.6" text-anchor="middle" transform="rotate(-90 444.03 369.90)">density</text>
<text x="552.58" y="276.50" font-size="11.4" text-anchor="middle" font-weight="bold">(F)</text>
</svg></body></html>
